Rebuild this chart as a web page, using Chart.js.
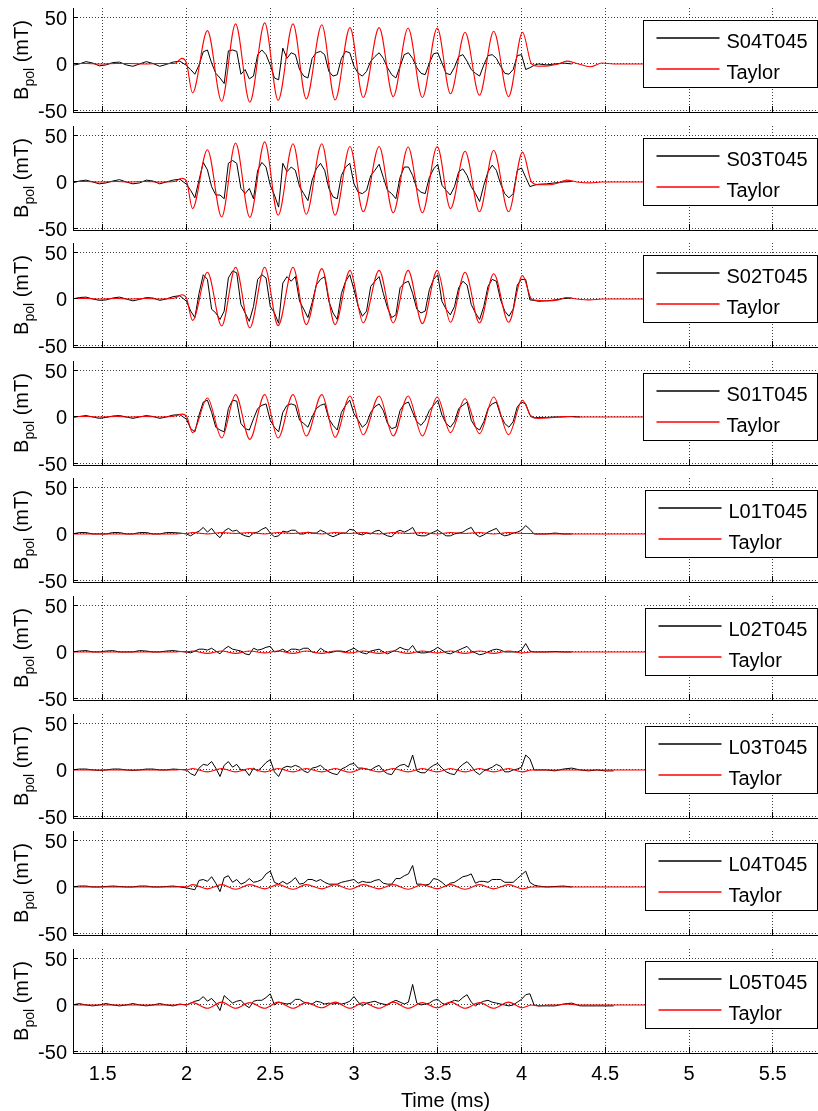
<!DOCTYPE html>
<html>
<head>
<meta charset="utf-8">
<title>Bpol probes vs Taylor</title>
<script src="https://cdn.jsdelivr.net/npm/chart.js@4.4.1/dist/chart.umd.min.js"></script>
<style>
  body { margin: 0; background: #fff; }
  #wrap { position: relative; width: 818px; height: 1111px; overflow: hidden; }
  #wrap canvas { position: absolute; left: 0; }
</style>
</head>
<body>
<div id="wrap"></div>
<script>
// time base of the probe signals (ms)
const tMeas = [
  1.32, 1.36, 1.40, 1.44, 1.48, 1.52, 1.56, 1.60, 1.64, 1.68, 1.72, 1.76, 1.80, 1.84, 1.88, 1.92, 1.96,
  2, 2.025, 2.05, 2.075, 2.1, 2.125, 2.15, 2.175, 2.2, 2.225,
  2.25, 2.275, 2.3, 2.325, 2.35, 2.375, 2.4, 2.425, 2.45, 2.475,
  2.5, 2.525, 2.55, 2.575, 2.6, 2.625, 2.65, 2.675, 2.7, 2.725,
  2.75, 2.775, 2.8, 2.825, 2.85, 2.875, 2.9, 2.925, 2.95, 2.975,
  3, 3.025, 3.05, 3.075, 3.1, 3.125, 3.15, 3.175, 3.2, 3.225,
  3.25, 3.275, 3.3, 3.325, 3.35, 3.375, 3.4, 3.425, 3.45, 3.475,
  3.5, 3.525, 3.55, 3.575, 3.6, 3.625, 3.65, 3.675, 3.7, 3.725,
  3.75, 3.775, 3.8, 3.825, 3.85, 3.875, 3.9, 3.925, 3.95, 3.975,
  4, 4.025, 4.05, 4.075, 4.1,
  4.15, 4.2, 4.25, 4.3, 4.35, 4.4, 4.45, 4.5, 4.55
];

// time base of the Taylor model (ms): extrema of each cycle
const tTaylor = [
  1.32, 1.40, 1.48, 1.58, 1.66, 1.75, 1.84, 1.93, 1.972, 2.0,
  2.036, 2.125, 2.21, 2.293, 2.378, 2.467, 2.547, 2.636, 2.715, 2.808, 2.887, 2.976,
  3.055, 3.15, 3.234, 3.323, 3.408, 3.497, 3.576, 3.663, 3.749, 3.834, 3.923, 4.006,
  4.06, 4.1, 4.16, 4.22, 4.27, 4.33, 4.41, 4.48, 4.55, 5.77
];

const xTicks = [1.5, 2, 2.5, 3, 3.5, 4, 4.5, 5, 5.5];
const yTicks = [-50, 0, 50];
const probeNames = ['S04T045', 'S03T045', 'S02T045', 'S01T045', 'L01T045', 'L02T045', 'L03T045', 'L04T045', 'L05T045'];

// measured Bpol (mT)
const measS04 = [
  -1.5, 0, 2.5, 1, -2, -1, 1.5, 2, -1, -2.5, 0, 2.5, 0.5, -2.5, -0.5, 2, 3,
  -1.5, -6, -11, -1, 13, 15, 1, -10, -15, -21,
  14, 15, 13.5, -11, -6, -16, -13, 10, 15, 10,
  -1, -15, -17, 17, 6, 12, 10, -6, -13, -15,
  6, 12, 13.5, 10, -8, -13, -11.5, 6, 13.5, 12,
  -2.5, -10, -13, -8, 3, 8, 12, 6, -4, -11.5,
  -15, -2.5, 10, 12, 6, -4, -10, -11.5, 1, 11,
  12, 1, -10, -11.5, -3.5, 8, 10, 3, -6, -10,
  -13, -1, 9, 10, 6, -2.5, -10, -11, -6, 9,
  10, -6, -4, -1.5, 0,
  -1, 0, 1, 0
];
const measS03 = [
  -1, 1, 2, 0, -2, -1, 1, 2.5, 0, -2, -1, 2, 1, -2, 0, 2, 3,
  -2.5, -9, -17, 2, 21, 13, -5, -14, -14, -18,
  20, 23, 20, -7, -12.5, -7, -18, 12.5, 21, 16,
  -3.5, -14, -27, 20, 11, 16, 12.5, -5, -12.5, -20,
  2, 14, 20, 12.5, -7, -16, -18, 7, 16, 20,
  -2, -11, -12.5, -9, 7, 12.5, 19, 5, -9, -12.5,
  -18, 5, 16, 16, 7, -7, -11, -12.5, 5, 14,
  19, -3.5, -9, -14, -5, 11, 14, 7, -5, -12.5,
  -21, -3.5, 11, 18, 12.5, -2, -12.5, -17, -12.5, 12.5,
  15, 5, -5, -3.5, -2.5,
  -2, -1, 0, 0.5
];
const measS02 = [
  0, 1.5, 2, 0, -1.5, -1, 1, 2, 0, -2, -0.5, 1.5, 1, -1.5, 0, 2.5, 3.5,
  -2.5, -13, -20, 6, 26, 21, -11, -15, -22, -13,
  22.5, 30, 28, -6, -15, -24, -8, 21, 26, 22.5,
  -8, -15, -26, 17, 24, 19, 24, -2.5, -11, -20,
  -4, 15, 21, 24, -2.5, -15, -22, 6, 19, 26,
  10, -8, -18.5, -13, 13.5, 19, 24, 6, -9.5, -20,
  -17, 12, 17, 19, 6, -11, -15, -13, 10, 21,
  26, -2.5, -11, -17, -8, 12, 19, 15, -6, -15,
  -22, -8, 13.5, 21, 19, -1, -13, -18.5, -11, 15,
  21, 21, -1, -1.5, -2.5,
  -2, -1, 0.5, 1
];
const measS01 = [
  -0.5, 0.5, 1.5, 0, -1.5, -0.5, 1, 1.5, 0, -1.5, 0, 1.5, 0.5, -1.5, 0, 2, 2.5,
  -2.5, -12.5, -16, 2, 16, 18, 5, -11, -14, -16,
  9, 18, 17, -7, -12.5, -14, -2, 9, 12.5, 14,
  -3.5, -11, -16, 5, 12.5, 14, 12.5, -3.5, -7, -11,
  0, 9, 12.5, 14, -2, -9, -14, 5, 12.5, 18,
  3.5, -3.5, -11, -7, 5, 11, 14, 7, -7, -12.5,
  -11, 7, 14, 16, 5, -5, -9, -3.5, 7, 12.5,
  18, 2, -7, -11, -5, 9, 12.5, 16, -3.5, -11,
  -14, -5, 9, 14, 16, 2, -7, -11, -5, 11,
  16, 14, 2, -1, -0.5,
  -0.5, 0, 0, 0.5, 0
];
const measL01 = [
  0, 1.5, 1.5, 0, 0, 0, 1.5, 1.5, 0, 0, 1.5, 1.5, 0, 0, 1.5, 1.5, 1,
  0, -2, 1, 3, 7, 2, 6, 0, -4, 3,
  6, 3, 4, 0, -2, -3, 1, 2, 5, 7,
  1, -3, -2, 3, 2, 4, 4, 0, 0, 2,
  1, 1, 4, 2, -1, -3, -1, 1, 1, 5,
  4, 0, -1, 1, 0, 3, 4, 0, -2, -3,
  2, 4, 2, 4, 7, -1, -2, -2, 0, 2,
  4, 1, -2, -2, 0, 1, 2, 5, 7, 0,
  -3, -1, 2, 4, 6, 0, -2, -1, 1, 2,
  4, 9, 5, 0, 0,
  0, 1, 0, 0
];
const measL02 = [
  0, 1, 1.5, 0, 0, 1, 1.5, 0, 0, 0, 1.5, 1, 0, 0, 1, 1.5, 0.5,
  0, -1, 1, 3, 3, 2, 4, 1, -2, 3,
  6, 3, 2, 1, -2, -3, 4, 2, 3, 5,
  6, 0, 1, 3, 0, 3, 3, 2, 4, 4,
  0, -1, 4, 1, -1, 0, 1, 1, 0, 2,
  4, 1, -1, -2, 1, 2, 3, 0, -2, 0,
  2, 5, 3, 2, 7, 0, -1, -1, 0, 2,
  5, 2, -1, -2, 0, 2, 4, 6, 1, -1,
  -3, -2, 0, 2, 3, 2, 0, 0, 0, 0,
  2, 9, 1, 0, 0,
  0, 0.5, 0, 0
];
const measL03 = [
  0, 1, 1, 0, -0.5, 0, 1, 1, 0, -0.5, 0, 1, 1, 0, 0, 1, 0.5,
  0, -4, -6, 2, 6, 5, 9, 2, -7, 5,
  9, 3, 6, 0, 0, -6, 2, -1, 3, 8,
  11, -2, -7, 2, 4, 3, 5, 3, -1, -3,
  2, 3, 5, 1, -2, -4, -5, 1, 3, 6,
  7, 2, 2, 1, 0, 3, 5, -1, -4, -5,
  2, 5, 6, 3, 16, -1, -3, -3, 2, 5,
  7, 2, -2, -4, -5, 2, 6, 9, 4, -2,
  -5, -1, 1, 3, 6, 4, -2, -2, 0, 1,
  3, 16, 12, 0, 0,
  0, -1, 1, 2, 0, -1, 0, -1, -1
];
const measL04 = [
  0, 1, 1, 0, 0, 0.5, 1, 0.5, 0, 0, 1, 1, 0, 0, 0.5, 1, 0,
  -1, -2, -3, 7, 8, 6, 11, 4, -5, 10,
  12, 5, 8, 3, 5, 9, 5, 6, 8, 14,
  17, 5, 3, 6, 3, 6, 10, 3, 4, 8,
  8, 6, 8, 5, 3, 3, 3, 5, 6, 7,
  8, 4, 6, 5, 5, 7, 8, 4, 3, 3,
  9, 9, 12, 14, 23, 3, 3, 2, 3, 9,
  8, 5, 1, 4, 5, 8, 11, 12, 14, 4,
  6, 6, 5, 8, 8, 8, 5, 5, 5, 9,
  13, 17, 5, 2, 1,
  0, 0.5, 1, 0
];
const measL05 = [
  0, 1.5, 0, -1, 0, 1.5, 0, -1, 0, 1.5, 0, -1, 0, 1.5, 0, -1, 1,
  0, 2, 4, 5, 9, 4, 7, 2, -6, 10,
  6, 2, 4, 5, 0, -3, 4, 5, 5, 8,
  12, 0, 3, 2, 1, 2, 6, 6, 3, 2,
  1, 4, 3, 1, 2, 1, 2, 1, 2, 4,
  9, 3, -1, 2, 3, 4, 2, 1, 0, 3,
  5, 3, 1, 3, 22, 2, 0, 1, 2, 5,
  6, 2, 0, 3, 5, 4, 8, 11, 3, -1,
  2, 4, 5, 3, 2, 1, 0, -1, 0, 3,
  6, 11, 12, 0, -1,
  -1, -1, 1, 2, -1, -1, -1, -1, -1
];

// Taylor model Bpol (mT), one value per tTaylor entry
const taylorS04 = [
  0.5, 0.5, 0, 0.5, 0.5, 0, 0.5, 0.5, 6, 1,
  -31, 35.7, -40, 43, -41, 44, -39, 43, -37.5, 42, -38.6, 39,
  -36, 39, -35, 38.6, -36, 38.6, -32, 34, -33.6, 35, -35, 34,
  0, -2.5, -2, 0, 3, 0.5, -3, 1, 0, 0
];
const taylorS03 = [
  0.5, 0.5, 0, 0.5, 0, 0.5, 0, 0.5, 4, 1,
  -28.6, 34.6, -37.5, 41.8, -38, 43, -35.7, 41, -34.6, 41, -35.7, 38,
  -32, 38, -33, 37.5, -33, 38, -28.6, 33, -32, 34, -32, 32,
  0, -3, -3, -1, 2, 0, -1, 0, 0, 0
];
const taylorS02 = [
  0.5, 0.5, 0, 0.5, 0, 0.5, 0, 1, 4.5, 1,
  -23, 28.6, -29, 34, -31, 34, -28.6, 34, -27.5, 32.5, -27.5, 30.7,
  -25.7, 30.7, -25.7, 30.7, -26.4, 30.7, -25, 28.6, -25.7, 27, -25, 25,
  0, -1.5, -2, -1, 1.5, 0, -1, 0, 0, 0
];
const taylorS01 = [
  0.5, 0.5, 0, 0.5, 0, 0.5, 0, 1, 3, 1,
  -16.8, 20.4, -22.5, 24, -24, 24, -22.5, 24, -20.4, 24, -21.8, 22.5,
  -19, 22.5, -20.4, 22.5, -20.4, 21.4, -16.8, 19.6, -17.9, 21.4, -19, 17.9,
  0, -1.5, -1, 0, 0.5, 0, 0, 0, 0, 0
];
const taylorL01 = [
  0, 0, 0, 0, 0, 0, 0, 0, 0.5, 0.5,
  1.5, 0, 1.5, 0.5, 1.5, 0, 1.5, 0.5, 1.5, 0, 1.5, 0.5,
  1.5, 0, 1.5, 0.5, 1.5, 0, 1.5, 0.5, 1.5, 0, 1.5, 0.5,
  0.5, 0, 0, 0, 0, 0, 0, 0, 0, 0
];
const taylorL02 = [
  0, 0, 0, 0, 0, 0, 0, 0, 0.5, 0,
  1, -1.5, 1, -1.5, 1, -1, 1, -1.5, 1, -1.5, 1, -1,
  1, -1.5, 1, -1.5, 1, -1, 1, -1.5, 1, -1.5, 1, -1,
  0, 0, 0, 0, 0, 0, 0, 0, 0, 0
];
const taylorL03 = [
  0, 0, 0, 0, 0, 0, 0, 0, 0.5, 0,
  1.5, -2, 1.5, -2, 1.5, -2, 1.5, -2, 1.5, -2, 1.5, -2.5,
  1.5, -2, 1.5, -2, 1.5, -2, 1.5, -2, 1.5, -2, 1.5, -2,
  0, 0, 0, 0, 0, 0, 0, 0, 0, 0
];
const taylorL04 = [
  0, 0, 0, 0, 0, 0, 0, 0, 0.5, 0,
  2.5, -2, 2.5, -2.5, 2.5, -2, 2.5, -2.5, 2.5, -2, 2.5, -2.5,
  2.5, -2, 2.5, -2.5, 2.5, -2, 2.5, -2.5, 2.5, -2, 2.5, -2,
  0, 0, 0, 0, 0, 0, 0, 0, 0, 0
];
const taylorL05 = [
  0, 0, 0, 0, 0, 0, 0, 0, 0.5, 0,
  2.5, -3.5, 3, -3.5, 2.5, -3.5, 3, -3.5, 2.5, -3, 3, -3.5,
  2.5, -3.5, 3, -3.5, 2.5, -3, 3, -3.5, 2.5, -3.5, 3, -3,
  0, -1, 0, 0, 1, 0, 0, 0, 0, 0
];

const measAll = [measS04, measS03, measS02, measS01, measL01, measL02, measL03, measL04, measL05];
const taylorAll = [taylorS04, taylorS03, taylorS02, taylorS01, taylorL01, taylorL02, taylorL03, taylorL04, taylorL05];

const FONT = "'Liberation Sans', Arial, Helvetica, sans-serif";
Chart.defaults.font.family = FONT;
Chart.defaults.font.size = 20;
Chart.defaults.color = '#000';

function toXY(ts, vs) {
  return vs.map((v, i) => ({ x: ts[i], y: v }));
}

// keep the plot box fixed: no extra room for overflowing end labels
function noScalePadding(s) {
  s.paddingTop = 0;
  s.paddingBottom = 0;
  s.paddingLeft = 0;
  s.paddingRight = 0;
}

// inward ticks, y title with subscript, boxed legend inside the axes
const panelDeco = {
  id: 'panelDeco',
  afterDraw(chart) {
    const { ctx, chartArea: a, scales } = chart;
    const big = '20px ' + FONT, small = '14px ' + FONT;

    ctx.save();
    ctx.strokeStyle = '#000';
    ctx.lineWidth = 1;
    ctx.beginPath();
    xTicks.forEach(v => {
      const px = Math.round(scales.x.getPixelForValue(v) - 0.5) + 0.5;
      ctx.moveTo(px, a.bottom);
      ctx.lineTo(px, a.bottom - 6);
    });
    yTicks.forEach(v => {
      const py = Math.round(scales.y.getPixelForValue(v) - 0.5) + 0.5;
      ctx.moveTo(a.left, py);
      ctx.lineTo(a.left + 5, py);
    });
    ctx.stroke();
    ctx.restore();

    // B_pol (mT)
    ctx.save();
    ctx.fillStyle = '#000';
    ctx.textBaseline = 'alphabetic';
    ctx.textAlign = 'left';
    ctx.translate(28, (a.top + a.bottom) / 2);
    ctx.rotate(-Math.PI / 2);
    ctx.font = big;
    const wB = ctx.measureText('B').width;
    const wU = ctx.measureText(' (mT)').width;
    ctx.font = small;
    const wS = ctx.measureText('pol').width;
    const sx = -(wB + wS + wU) / 2;
    ctx.font = big;
    ctx.fillText('B', sx, 0);
    ctx.font = small;
    ctx.fillText('pol', sx + wB, 6);
    ctx.font = big;
    ctx.fillText(' (mT)', sx + wB + wS, 0);
    ctx.restore();

    // legend box
    ctx.save();
    ctx.font = big;
    const sets = chart.data.datasets;
    const tw = Math.max(...sets.map(d => ctx.measureText(d.label).width));
    const bw = Math.round(13 + 63 + 7 + tw + 10), bh = 67;
    const bx = Math.round(a.right - 1.5 - bw) + 0.5;
    const by = Math.round(a.top + 11.5) + 0.5;
    ctx.fillStyle = '#fff';
    ctx.fillRect(bx, by, bw, bh);
    ctx.strokeStyle = '#000';
    ctx.lineWidth = 1;
    ctx.strokeRect(bx, by, bw, bh);
    sets.forEach((d, i) => {
      const ry = Math.round(by + 17 + i * 31);
      ctx.strokeStyle = d.borderColor;
      ctx.lineWidth = 1.3;
      ctx.beginPath();
      ctx.moveTo(bx + 13, ry);
      ctx.lineTo(bx + 76, ry);
      ctx.stroke();
      ctx.fillStyle = '#000';
      ctx.textAlign = 'left';
      ctx.textBaseline = 'alphabetic';
      ctx.fillText(d.label, bx + 83, ry + 9.5);
    });
    ctx.restore();
  }
};

const wrap = document.getElementById('wrap');

probeNames.forEach((name, i) => {
  const last = i === probeNames.length - 1;
  const plotTop = Math.round(8 + 117.6 * i);
  const cTop = plotTop - 8;
  const cH = last ? 1111 - cTop : 126;
  const cv = document.createElement('canvas');
  cv.width = 818;
  cv.height = cH;
  cv.style.top = cTop + 'px';
  wrap.appendChild(cv);

  new Chart(cv, {
    type: 'line',
    data: {
      datasets: [
        {
          label: name,
          data: toXY(tMeas, measAll[i]),
          borderColor: '#000000',
          borderWidth: 1,
          pointRadius: 0,
          tension: 0,
          order: 1
        },
        {
          label: 'Taylor',
          data: toXY(tTaylor, taylorAll[i]),
          borderColor: '#ff0000',
          borderWidth: 1.1,
          pointRadius: 0,
          cubicInterpolationMode: 'monotone',
          order: 0
        }
      ]
    },
    options: {
      responsive: false,
      animation: false,
      devicePixelRatio: 1,
      events: [],
      layout: { padding: { top: 8, left: 0, right: 0, bottom: 0 } },
      plugins: {
        legend: { display: false },
        tooltip: { enabled: false }
      },
      scales: {
        x: {
          type: 'linear',
          min: 1.3225,
          max: 5.77,
          afterBuildTicks: s => { s.ticks = xTicks.map(v => ({ value: v })); },
          afterFit: s => { s.height = cH - 8 - 104; noScalePadding(s); },
          grid: { color: 'rgba(0,0,0,0.75)', lineWidth: 1, drawTicks: false },
          border: { display: true, color: '#000', width: 1, dash: [1, 2] },
          ticks: {
            display: last,
            padding: 9,
            maxRotation: 0,
            autoSkip: false,
            callback: v => String(v)
          },
          title: {
            display: last,
            text: 'Time (ms)',
            font: { size: 20, lineHeight: 1 },
            padding: { top: 0, bottom: 0 }
          }
        },
        y: {
          min: -51.5,
          max: 60,
          afterBuildTicks: s => { s.ticks = yTicks.map(v => ({ value: v })); },
          afterFit: s => { s.width = 73; noScalePadding(s); },
          grid: { color: 'rgba(0,0,0,0.75)', lineWidth: 1, drawTicks: false },
          border: { display: true, color: '#000', width: 1, dash: [1, 2] },
          ticks: { padding: 6, labelOffset: 2, callback: v => String(v) }
        }
      }
    },
    plugins: [panelDeco]
  });
});
</script>
</body>
</html>
